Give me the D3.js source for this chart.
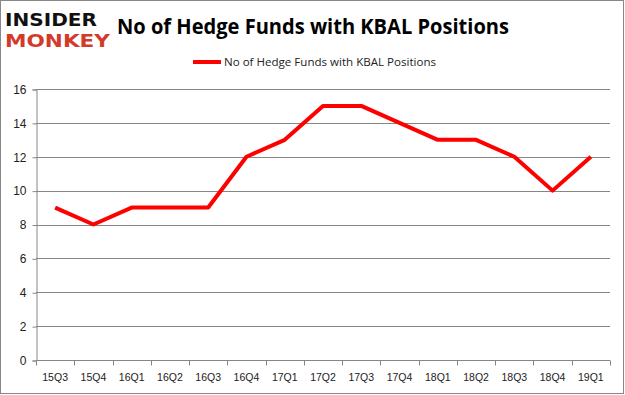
<!DOCTYPE html>
<html>
<head>
<meta charset="utf-8">
<script src="https://cdn.jsdelivr.net/npm/d3@7"></script>
<style>
  body { margin: 0; background: #fff; }
  svg { display: block; font-family: "Open Sans", "DejaVu Sans", sans-serif; }
</style>
</head>
<body>
<div id="chart"></div>
<script>
// chart data
var quarters = ["15Q3", "15Q4", "16Q1", "16Q2", "16Q3", "16Q4", "17Q1", "17Q2",
                "17Q3", "17Q4", "18Q1", "18Q2", "18Q3", "18Q4", "19Q1"];
var funds = [9, 8, 9, 9, 9, 12, 13, 15, 15, 14, 13, 13, 12, 10, 12];
var yTicks = [0, 2, 4, 6, 8, 10, 12, 14, 16];
var seriesName = "No of Hedge Funds with KBAL Positions";

var width = 625, height = 395;
var margin = { left: 36, right: 15, top: 89, bottom: 35 };

var svg = d3.select("#chart").append("svg")
    .attr("width", width)
    .attr("height", height);

// outer frame
svg.append("rect")
    .attr("x", 0.5).attr("y", 0.5)
    .attr("width", width - 2).attr("height", height - 2)
    .attr("fill", "#fff")
    .attr("stroke", "#888");

var xScale = d3.scaleBand()
    .domain(quarters)
    .range([margin.left, width - margin.right]);

var yScale = d3.scaleLinear()
    .domain([0, 16])
    .range([height - margin.bottom, margin.top]);

// gridlines
svg.append("g").selectAll("line")
    .data(yTicks)
    .enter().append("line")
    .attr("x1", margin.left)
    .attr("x2", width - margin.right)
    .attr("y1", function (d) { return Math.round(yScale(d)) + 0.5; })
    .attr("y2", function (d) { return Math.round(yScale(d)) + 0.5; })
    .attr("stroke", "#868686");

// y axis
var yAxis = d3.axisLeft(yScale).tickValues(yTicks).tickSize(4).tickPadding(6);
var gy = svg.append("g")
    .attr("transform", "translate(" + (margin.left + 0.5) + ",0.5)")
    .call(yAxis);
gy.select(".domain").attr("stroke", "#868686");
gy.selectAll(".tick line").attr("stroke", "#868686");
gy.selectAll("text").attr("font-size", 12).attr("fill", "#222")
    .attr("font-family", "'Liberation Sans', Arial, sans-serif");

// x axis, ticks between categories
var gx = svg.append("g")
    .attr("transform", "translate(0," + (Math.round(yScale(0)) + 0.5) + ")");
gx.append("line")
    .attr("x1", margin.left).attr("x2", width - margin.right)
    .attr("stroke", "#868686");
gx.selectAll(".xt")
    .data(quarters.concat(["end"]))
    .enter().append("line")
    .attr("class", "xt")
    .attr("x1", function (d, i) {
        return Math.round(i < quarters.length ? xScale(d) : xScale.range()[1]) + 0.5;
    })
    .attr("x2", function (d, i) {
        return Math.round(i < quarters.length ? xScale(d) : xScale.range()[1]) + 0.5;
    })
    .attr("y1", 0).attr("y2", 5)
    .attr("stroke", "#868686");
gx.selectAll(".xl")
    .data(quarters)
    .enter().append("text")
    .attr("class", "xl")
    .attr("x", function (d) { return xScale(d) + xScale.bandwidth() / 2; })
    .attr("y", 20)
    .attr("text-anchor", "middle")
    .attr("font-size", 10.5)
    .attr("fill", "#222")
    .attr("font-family", "'Liberation Sans', Arial, sans-serif")
    .text(function (d) { return d; });

// line
var line = d3.line()
    .x(function (d, i) { return xScale(quarters[i]) + xScale.bandwidth() / 2; })
    .y(function (d) { return yScale(d); });

svg.append("path")
    .datum(funds)
    .attr("d", line)
    .attr("fill", "none")
    .attr("stroke", "#ff0000")
    .attr("stroke-width", 4)
    .attr("stroke-linejoin", "round");

// title
svg.append("text")
    .attr("x", 117).attr("y", 34)
    .attr("font-size", 21)
    .attr("font-weight", "bold")
    .attr("textLength", 392)
    .attr("lengthAdjust", "spacingAndGlyphs")
    .text(seriesName);

// legend
svg.append("line")
    .attr("x1", 193).attr("x2", 221)
    .attr("y1", 62).attr("y2", 62)
    .attr("stroke", "#ff0000")
    .attr("stroke-width", 4);
svg.append("text")
    .attr("x", 224).attr("y", 66)
    .attr("font-size", 11)
    .attr("fill", "#222")
    .attr("textLength", 212)
    .attr("lengthAdjust", "spacingAndGlyphs")
    .text(seriesName);

// logo
svg.append("text")
    .attr("x", 5).attr("y", 26)
    .attr("font-size", 18)
    .attr("font-weight", "900")
    .attr("font-family", "'DejaVu Sans', sans-serif")
    .attr("textLength", 92)
    .attr("lengthAdjust", "spacingAndGlyphs")
    .attr("fill", "#111")
    .text("INSIDER");
svg.append("text")
    .attr("x", 5).attr("y", 47)
    .attr("font-size", 18)
    .attr("font-weight", "900")
    .attr("font-family", "'DejaVu Sans', sans-serif")
    .attr("textLength", 105)
    .attr("lengthAdjust", "spacingAndGlyphs")
    .attr("fill", "#d43a2a")
    .text("MONKEY");
</script>
</body>
</html>
